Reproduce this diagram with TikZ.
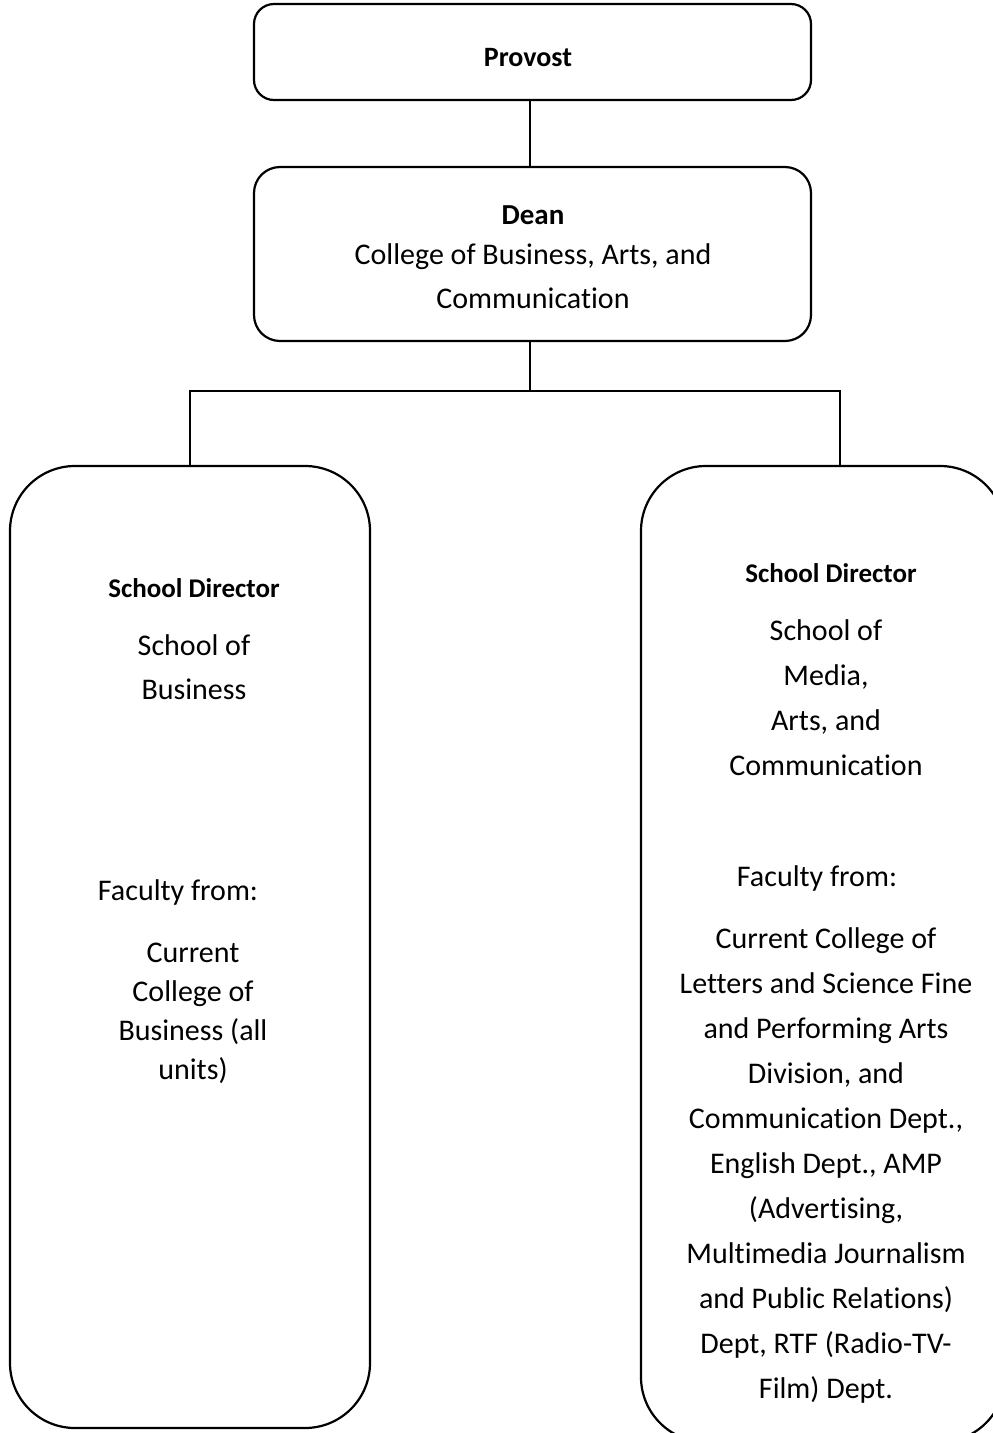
\documentclass[tikz,border=0pt]{standalone}
\usepackage{fontspec}
\setmainfont{Carlito}[Ligatures=NoCommon]
\begin{document}
\begin{tikzpicture}[x=1pt,y=-1pt,
  box/.style={draw, line width=2.2pt, rounded corners=#1, inner sep=0pt},
  link/.style={line width=2.2pt},
  body/.style={font=\fontsize{30}{44}\selectfont, align=center, inner sep=0pt},
  head/.style={font=\fontsize{28}{34}\selectfont\bfseries, align=center, inner sep=0pt}]
\useasboundingbox (0,0) rectangle (993,1433);
\clip (0,0) rectangle (993,1433);

% boxes
\node[box=20pt, minimum width=557pt, minimum height=96pt] (prov) at (532.5,52) {};
\node[box=26pt, minimum width=557pt, minimum height=174pt] (dean) at (532.5,254) {};
\node[box=65pt, minimum width=360pt, minimum height=962pt] (bus) at (190,947) {};
\node[box=65pt, minimum width=364pt, minimum height=976pt] (mac) at (823,954) {};

% connectors
\coordinate (split) at (530,391);
\coordinate (macTop) at (840,466);
\draw[link] (prov.south -| split) -- (dean.north -| split);
\draw[link] (dean.south -| split) -- (split);
\draw[link] (split) -| (bus.north);
\draw[link] (split) -| (macTop);

% texts
\node[head] (tprov) at (528,58) {Provost};
\node[head, font=\fontsize{29}{34}\selectfont\bfseries] (tdean) at (533,215) {Dean};
\node[body] (tdean2) at (533,276) {College of Business, Arts, and\\Communication};

\node[head, font=\fontsize{27}{34}\selectfont\bfseries] (tbus1) at (194,588) {School Director};
\node[body] (tbus2) at (194,667) {School of\\Business};
\node[body] (tbus3) at (178,892) {Faculty from:};
\node[body, font=\fontsize{30}{39}\selectfont] (tbus4) at (193,1013) {Current\\College of\\Business (all\\units)};

\node[head, font=\fontsize{27}{34}\selectfont\bfseries] (tmac1) at (831,573) {School Director};
\node[body, font=\fontsize{30}{45}\selectfont] (tmac2) at (826,698) {School of\\Media,\\Arts, and\\Communication};
\node[body] (tmac3) at (817,878) {Faculty from:};
\node[body, font=\fontsize{30}{45}\selectfont] (tmac4) at (826,1165)
  {Current College of\\Letters and Science Fine\\and Performing Arts\\Division, and\\Communication Dept.,\\English Dept., AMP\\(Advertising,\\Multimedia Journalism\\and Public Relations)\\Dept, RTF (Radio-TV-\\Film) Dept.};
\end{tikzpicture}
\end{document}
